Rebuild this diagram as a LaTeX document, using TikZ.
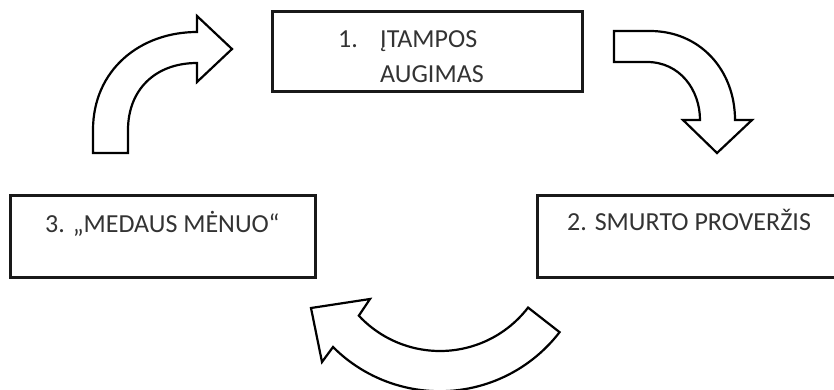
\documentclass[tikz,border=0pt]{standalone}
\usepackage{fontspec}
\setmainfont{Carlito}
\begin{document}
\begin{tikzpicture}[x=1pt,y=-1pt,
  box/.style={draw=black!90, line width=3pt, minimum width=#1, minimum height=82pt, inner sep=0pt},
  lbl/.style={anchor=base west, inner sep=0pt, text=black!80, font=\fontsize{26pt}{30pt}\selectfont},
  barrow/.style={draw=black, fill=white, line width=2.2pt, line join=miter}]
\clip (0,0) rectangle (834,389);
% boxes
\node[box=310pt, minimum height=80pt] (b1) at (427,51) {};
\node[box=305pt] (b3) at (162.5,236) {};
\node[box=308pt] (b2) at (691,236) {};
% texts
\node[lbl] (t1a) at (338,47) {1.};
\node[lbl] (t1b) at (380,47) {ĮTAMPOS};
\node[lbl] (t1c) at (380,82) {AUGIMAS};
\node[lbl] (t3) at (45,232) {3. „MEDAUS MĖNUO“};
\node[lbl] (t2) at (567,230) {2. SMURTO PROVERŽIS};
% top-left arrow
\draw[barrow] (93,153) -- (93,130) .. controls (93,70) and (140,32) .. (197,32)
  -- (197,16) -- (232,49) -- (197,82) -- (197,63)
  .. controls (155,63) and (128,90) .. (128,130) -- (128,153) -- cycle;
% top-right arrow
\draw[barrow] (614,31) -- (650,31) .. controls (700,31) and (735,70) .. (735,120)
  -- (752,120) -- (717,153) -- (683,120) -- (700,120)
  .. controls (700,90) and (680,62) .. (647,62) -- (614,62) -- cycle;
% bottom arrow
\draw[barrow] ([shift={(37.5:111)}]440,240) arc[start angle=37.5, end angle=137, radius=111]
  -- (370,299) -- (311,308) -- (322,362) -- (333,347)
  arc[start angle=135, end angle=37.5, radius=151] -- cycle;
\end{tikzpicture}
\end{document}
